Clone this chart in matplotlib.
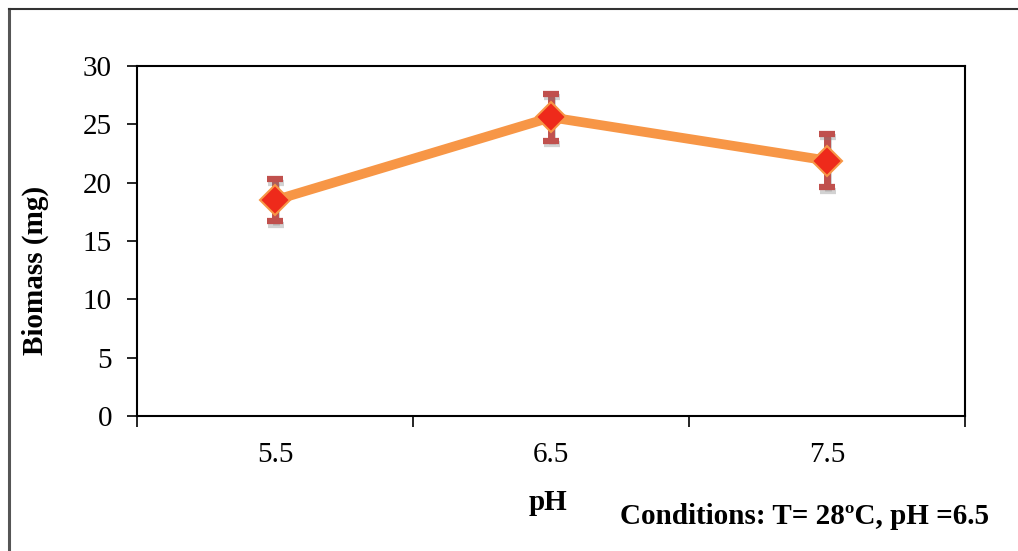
import matplotlib
matplotlib.use("Agg")
import matplotlib.pyplot as plt
import matplotlib.patheffects as pe
from matplotlib.lines import Line2D

categories = ["5.5", "6.5", "7.5"]
biomass = [18.5, 25.6, 21.9]
errors = [1.8, 2.0, 2.3]
y_ticks = [0, 5, 10, 15, 20, 25, 30]

plt.rcParams['font.family'] = ['Liberation Serif', 'DejaVu Serif']

fig = plt.figure(figsize=(10.18, 5.51), dpi=100)
W, H = 1018, 551
ax = fig.add_axes([137 / W, 1 - 416 / H, (965 - 137) / W, (416 - 66) / H])

x = [i + 0.5 for i in range(len(categories))]

# outer frame (left and top)
fig.add_artist(Line2D([8.5 / W, 8.5 / W], [0, 1 - 9 / H], color="#555555", lw=2.2, transform=fig.transFigure))
fig.add_artist(Line2D([8.5 / W, 1], [1 - 9 / H, 1 - 9 / H], color="#333333", lw=1.5, transform=fig.transFigure))

ax.plot(x, biomass, color="#F79646", lw=7, solid_capstyle="butt", zorder=2)
eb = ax.errorbar(x, biomass, yerr=errors, fmt="none", ecolor="#C0504D", elinewidth=5,
                 capsize=5.5, capthick=4.5, zorder=3)
for art in list(eb[1]) + list(eb[2]):
    art.set_path_effects([pe.SimpleLineShadow(offset=(0.8, -2.5), shadow_color="gray", alpha=0.35), pe.Normal()])
ax.plot(x, biomass, linestyle="none", marker="D", markersize=15, markerfacecolor="#EE2A1B",
        markeredgecolor="#F79646", markeredgewidth=1.5, zorder=4)

ax.set_xlim(0, len(categories))
ax.set_ylim(0, 30)
ax.set_yticks(y_ticks)
ax.set_yticklabels([str(v) for v in y_ticks], fontsize=21)
ax.set_xticks(range(len(categories) + 1))
ax.set_xticklabels([""] * (len(categories) + 1))
ax.set_xticks(x, minor=True)
ax.set_xticklabels(categories, minor=True, fontsize=21)
ax.tick_params(axis="x", which="major", length=8, width=1.2, direction="out")
ax.tick_params(axis="x", which="minor", length=0, pad=19)
ax.tick_params(axis="y", length=7, width=1.2, direction="out", pad=11)
for s in ax.spines.values():
    s.set_linewidth(1.5)
    s.set_color("black")

fig.text(35 / W, 1 - 270 / H, "Biomass (mg)", fontsize=21, fontweight="bold", rotation=90,
         ha="center", va="center")
fig.text(548 / W, 1 - 502 / H, "pH", fontsize=21, fontweight="bold", ha="center", va="center")
fig.text(805 / W, 1 - 516 / H, "Conditions: T= 28\u00baC, pH =6.5", fontsize=21, fontweight="bold",
         ha="center", va="center")

fig.savefig("out.png", dpi=100)
